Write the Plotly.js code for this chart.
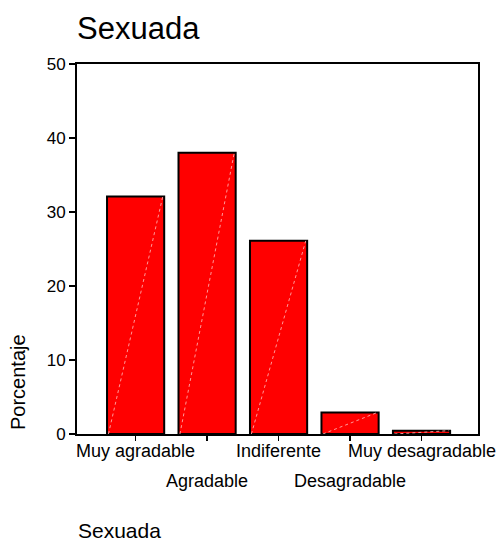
<!DOCTYPE html>
<html>
<head>
<meta charset="utf-8">
<script src="https://cdn.plot.ly/plotly-3.0.1.min.js"></script>
<style>html,body{margin:0;padding:0;background:#fff;}#chart{width:498px;height:542px;}</style>
</head>
<body>
<div id="chart"></div>
<script>
const categories = ["Muy agradable", "Agradable", "Indiferente", "Desagradable", "Muy desagradable"];
const percentages = [32.1, 38.0, 26.1, 2.9, 0.45];
const yTickValues = [0, 10, 20, 30, 40, 50];
const chartTitle = "Sexuada";
const xAxisTitle = "Sexuada";
const yAxisTitle = "Porcentaje";

const FONT = "Liberation Sans, Arial, sans-serif";
const idx = categories.map((c, i) => i);
const barWidth = 0.8;

const traces = [{
  type: "bar",
  x: idx,
  y: percentages,
  width: barWidth,
  marker: { color: "#ff0000", line: { color: "#000000", width: 2 } },
  hoverinfo: "skip"
}];
// faint diagonal highlight inside each bar (bottom-left to top-right)
idx.forEach((i) => {
  traces.push({
    type: "scatter", mode: "lines",
    x: [i - barWidth / 2 + 0.02, i + barWidth / 2 - 0.02],
    y: [0, percentages[i]],
    line: { color: "rgba(255,170,170,0.9)", width: 1, dash: "dot" },
    hoverinfo: "skip", showlegend: false
  });
});

const annotations = [];
categories.forEach((c, i) => {
  annotations.push({
    xref: "x", yref: "paper", x: i, y: 0,
    xanchor: "center", yanchor: "top",
    yshift: i % 2 === 0 ? -5 : -35,
    text: c, showarrow: false,
    font: { family: FONT, size: 18, color: "#000" }
  });
});
annotations.push({
  xref: "paper", yref: "paper", x: 0, y: 0,
  xanchor: "left", yanchor: "top", yshift: -84, borderpad: 0,
  text: xAxisTitle, showarrow: false,
  font: { family: FONT, size: 21, color: "#000" }
});
annotations.push({
  xref: "paper", yref: "paper", x: 0, y: (434 - 382) / 370,
  xanchor: "center", yanchor: "middle", xshift: -59,
  textangle: -90,
  text: yAxisTitle, showarrow: false,
  font: { family: FONT, size: 20, color: "#000" }
});

const layout = {
  width: 498, height: 542,
  margin: { l: 77, r: 20, t: 64, b: 108, pad: 0 },
  paper_bgcolor: "#fff", plot_bgcolor: "#fff",
  showlegend: false,
  font: { family: FONT, color: "#000" },
  title: {
    text: chartTitle,
    font: { family: FONT, size: 31, color: "#000" },
    xref: "paper", x: 0, xanchor: "left",
    yref: "container", y: 1 - 28 / 542, yanchor: "middle"
  },
  xaxis: {
    range: [-0.82, 4.79],
    tickvals: idx,
    showticklabels: false,
    ticks: "outside", ticklen: 5, tickwidth: 1.5, tickcolor: "#000",
    showline: true, linecolor: "#000", linewidth: 2, mirror: true,
    showgrid: false, zeroline: false, fixedrange: true
  },
  yaxis: {
    range: [0, 50],
    tickvals: yTickValues,
    ticks: "outside", ticklen: 6, tickwidth: 1.5, tickcolor: "#000",
    tickfont: { family: FONT, size: 17, color: "#000" },
    showline: true, linecolor: "#000", linewidth: 2, mirror: true,
    showgrid: false, zeroline: false, fixedrange: true
  },
  annotations: annotations
};

Plotly.newPlot("chart", traces, layout, { displayModeBar: false, staticPlot: true });
</script>
</body>
</html>
